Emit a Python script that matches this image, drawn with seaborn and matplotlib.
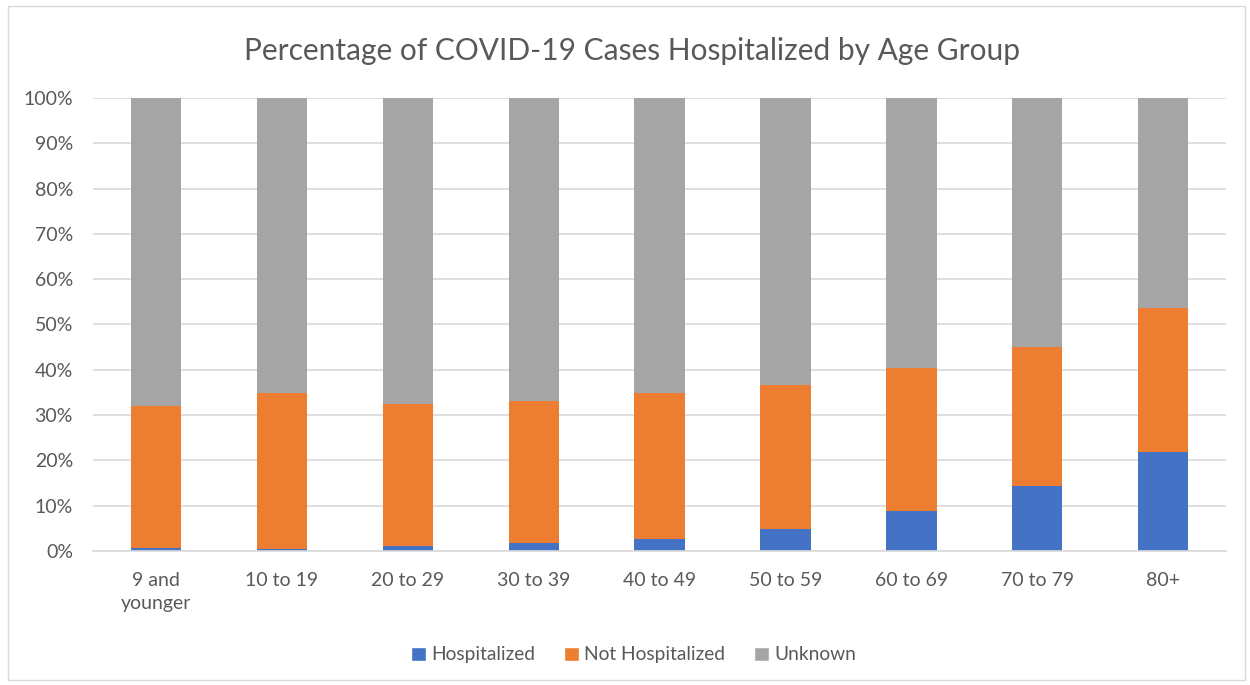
import pandas as pd
import seaborn as sns
import matplotlib.pyplot as plt
from matplotlib.patches import Patch, Rectangle
from matplotlib.ticker import PercentFormatter

age_groups = ['9 and\nyounger', '10 to 19', '20 to 29', '30 to 39', '40 to 49',
              '50 to 59', '60 to 69', '70 to 79', '80+']
hospitalized = [0.7, 0.4, 1.2, 1.7, 2.7, 4.8, 8.9, 14.4, 21.8]
not_hospitalized = [31.2, 34.55, 31.25, 31.5, 32.25, 31.9, 31.5, 30.6, 31.8]
unknown = [68.1, 65.05, 67.55, 66.8, 65.05, 63.3, 59.6, 55.0, 46.4]

colors = {'Hospitalized': '#4472C4', 'Not Hospitalized': '#ED7D31', 'Unknown': '#A5A5A5'}

df = pd.DataFrame({'age': age_groups, 'Hospitalized': hospitalized,
                   'Not Hospitalized': not_hospitalized, 'Unknown': unknown})
df['cum_not'] = df['Hospitalized'] + df['Not Hospitalized']
df['cum_all'] = df['cum_not'] + df['Unknown']

sns.set_theme(style='white')
plt.rcParams['font.family'] = ['Lato', 'DejaVu Sans']

fig = plt.figure(figsize=(12.5, 6.85), dpi=100)
ax = fig.add_axes([0.0745, 0.1956, 0.9064, 0.6614])

# stacked bars: draw the tallest first
for col, key in [('cum_all', 'Unknown'), ('cum_not', 'Not Hospitalized'),
                 ('Hospitalized', 'Hospitalized')]:
    sns.barplot(data=df, x='age', y=col, color=colors[key], width=0.4,
                saturation=1, linewidth=0, ax=ax, zorder=2)

ax.set_ylim(0, 100)
ax.set_xlim(-0.5, len(age_groups) - 0.5)
ax.set_yticks(range(0, 101, 10))
ax.yaxis.set_major_formatter(PercentFormatter(decimals=0))
ax.yaxis.grid(True, color='#D9D9D9', linewidth=1.2, zorder=0)
ax.set_axisbelow(True)
for s in ['top', 'right', 'left']:
    ax.spines[s].set_visible(False)
ax.spines['bottom'].set_color('#D9D9D9')
ax.spines['bottom'].set_linewidth(1.2)
ax.set_xlabel('')
ax.set_ylabel('')
ax.tick_params(axis='both', length=0, labelsize=14, labelcolor='#595959')
ax.tick_params(axis='y', pad=14.5)
ax.tick_params(axis='x', pad=15)
for lbl in ax.get_xticklabels():
    lbl.set_linespacing(1.45)

fig.text(0.506, 0.925, 'Percentage of COVID-19 Cases Hospitalized by Age Group',
         ha='center', va='center', fontsize=21.5, color='#595959')

handles = [Patch(facecolor=c, label=k) for k, c in colors.items()]
fig.legend(handles=handles, loc='center', bbox_to_anchor=(0.507, 0.044), ncol=3,
           frameon=False, fontsize=13.8, labelcolor='#595959', handlelength=0.75,
           handleheight=0.75, handletextpad=0.3, columnspacing=1.5)

fig.add_artist(Rectangle((0.006, 0.007), 0.99, 0.984, transform=fig.transFigure,
                         fill=False, edgecolor='#D9D9D9', linewidth=1))

fig.savefig('out.png', dpi=100)
